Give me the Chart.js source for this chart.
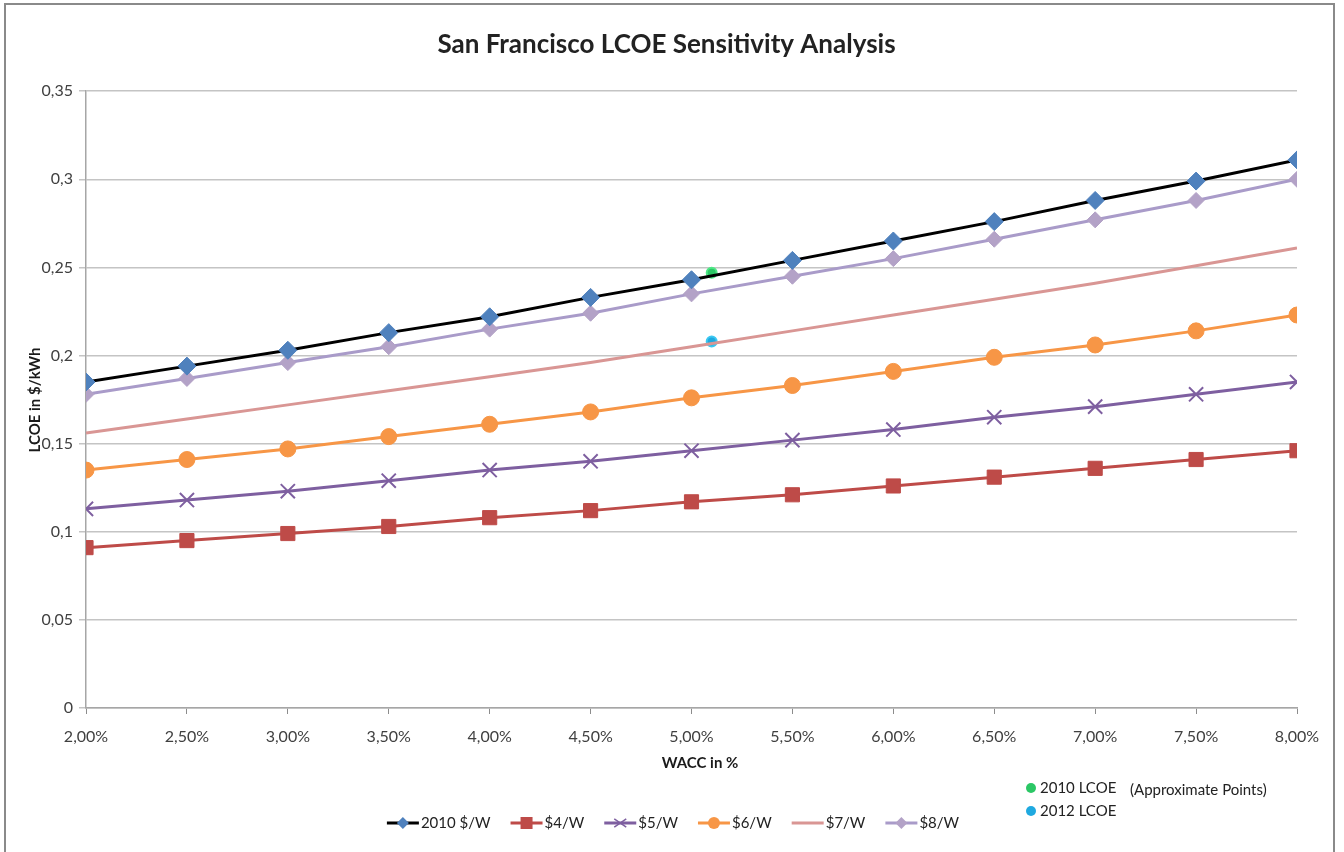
<html>
<head>
	<title>San Francisco LCOE Sensitivity Analysis</title>
	<script src="https://cdn.jsdelivr.net/npm/chart.js"></script>
	<style>
		body { margin: 0; background: #fff; }
		.chart { width: 1344px; height: 852px; }
	</style>
</head>
<body>
	<div class="chart">
		<canvas id="lcoeChart" width="1344" height="852"></canvas>
	</div>
<script>
	// WACC in %
	const wacc = [2, 2.5, 3, 3.5, 4, 4.5, 5, 5.5, 6, 6.5, 7, 7.5, 8];

	// LCOE in $/kWh
	const cost2010 = [0.185, 0.194, 0.203, 0.213, 0.222, 0.233, 0.243, 0.254, 0.265, 0.276, 0.288, 0.299, 0.311];
	const cost4 = [0.091, 0.095, 0.099, 0.103, 0.108, 0.112, 0.117, 0.121, 0.126, 0.131, 0.136, 0.141, 0.146];
	const cost5 = [0.113, 0.118, 0.123, 0.129, 0.135, 0.140, 0.146, 0.152, 0.158, 0.165, 0.171, 0.178, 0.185];
	const cost6 = [0.135, 0.141, 0.147, 0.154, 0.161, 0.168, 0.176, 0.183, 0.191, 0.199, 0.206, 0.214, 0.223];
	const cost7 = [0.156, 0.164, 0.172, 0.180, 0.188, 0.196, 0.205, 0.214, 0.223, 0.232, 0.241, 0.251, 0.261];
	const cost8 = [0.178, 0.187, 0.196, 0.205, 0.215, 0.224, 0.235, 0.245, 0.255, 0.266, 0.277, 0.288, 0.300];

	// approximate points
	const lcoe2010 = [5.1, 0.247];
	const lcoe2012 = [5.1, 0.208];

	const seriesLabels = ['2010 $/W', '$4/W', '$5/W', '$6/W', '$7/W', '$8/W'];

	const FONT = 'Lato, "Open Sans", sans-serif';

	const toPoints = (arr) => arr.map((v, i) => ({ x: wacc[i], y: v }));

	const seriesStyle = [
		{ line: '#000000', fill: '#4f81bd', point: 'rectRot', radius: 9 },
		{ line: '#be4b48', fill: '#be4b48', point: 'rect', radius: 10 },
		{ line: '#7e5fa0', fill: '#7e5fa0', point: 'crossRot', radius: 10 },
		{ line: '#f79646', fill: '#f79646', point: 'circle', radius: 8 },
		{ line: '#d99694', fill: '#d99694', point: false, radius: 0 },
		{ line: '#a99bc9', fill: '#b3a2c7', point: 'rectRot', radius: 8 }
	];
	const seriesData = [cost2010, cost4, cost5, cost6, cost7, cost8];

	const datasets = seriesData.map((d, i) => ({
		label: seriesLabels[i],
		data: toPoints(d),
		borderColor: seriesStyle[i].line,
		backgroundColor: seriesStyle[i].fill,
		pointBackgroundColor: seriesStyle[i].fill,
		pointBorderColor: seriesStyle[i].fill,
		pointBorderWidth: seriesStyle[i].point === 'crossRot' ? 2 : 1,
		pointStyle: seriesStyle[i].point,
		pointRadius: seriesStyle[i].radius,
		borderWidth: 3,
		tension: 0
	}));

	datasets.push({
		label: '2010 LCOE',
		data: [{ x: lcoe2010[0], y: lcoe2010[1] }],
		showLine: false,
		pointStyle: 'circle',
		pointRadius: 5,
		pointBackgroundColor: '#2bc765',
		pointBorderColor: '#4fe886',
		pointBorderWidth: 2
	});
	datasets.push({
		label: '2012 LCOE',
		data: [{ x: lcoe2012[0], y: lcoe2012[1] }],
		showLine: false,
		pointStyle: 'circle',
		pointRadius: 5,
		pointBackgroundColor: '#1fa9e0',
		pointBorderColor: '#3cc8f2',
		pointBorderWidth: 2
	});

	function marker(ctx, style, x, y, r, color) {
		ctx.save();
		ctx.fillStyle = color;
		ctx.strokeStyle = color;
		ctx.beginPath();
		if (style === 'rectRot') {
			ctx.moveTo(x, y - r); ctx.lineTo(x + r, y); ctx.lineTo(x, y + r); ctx.lineTo(x - r, y);
			ctx.closePath(); ctx.fill();
		} else if (style === 'rect') {
			ctx.rect(x - r, y - r, 2 * r, 2 * r); ctx.fill();
		} else if (style === 'circle') {
			ctx.arc(x, y, r, 0, Math.PI * 2); ctx.fill();
		} else if (style === 'crossRot') {
			ctx.lineWidth = 1.5;
			ctx.moveTo(x - r, y - r * 0.7); ctx.lineTo(x + r, y + r * 0.7);
			ctx.moveTo(x - r, y + r * 0.7); ctx.lineTo(x + r, y - r * 0.7);
			ctx.stroke();
		}
		ctx.restore();
	}

	const frame = {
		id: 'frame',
		beforeDraw(chart) {
			const ctx = chart.ctx;
			ctx.save();
			ctx.fillStyle = '#fff';
			ctx.fillRect(0, 0, chart.width, chart.height);
			ctx.strokeStyle = '#8a8a8a';
			ctx.lineWidth = 2;
			ctx.strokeRect(5, 4, 1329, 870);
			ctx.restore();
		},
		afterDraw(chart) {
			const ctx = chart.ctx;
			ctx.save();
			ctx.fillStyle = '#1a1a1a';
			ctx.font = 'bold 15px ' + FONT;
			ctx.textAlign = 'center';
			ctx.textBaseline = 'middle';
			ctx.fillText('WACC in %', 700, 763);
			ctx.translate(35, 400);
			ctx.rotate(-Math.PI / 2);
			ctx.fillText('LCOE in $/kWh', 0, 0);
			ctx.restore();

			// series legend
			ctx.save();
			ctx.font = '15px ' + FONT;
			ctx.textBaseline = 'middle';
			const y = 823;
			const lineLen = 32;
			const gap = 20;
			const widths = seriesLabels.map(t => lineLen + 2 + ctx.measureText(t).width);
			const total = widths.reduce((a, b) => a + b, 0) + gap * (widths.length - 1);
			let x = 673 - total / 2;
			seriesLabels.forEach((t, i) => {
				const s = seriesStyle[i];
				ctx.strokeStyle = s.line;
				ctx.lineWidth = 3;
				ctx.beginPath();
				ctx.moveTo(x, y); ctx.lineTo(x + lineLen, y);
				ctx.stroke();
				if (s.point) marker(ctx, s.point, x + lineLen / 2, y, 6, s.fill);
				ctx.fillStyle = '#222';
				ctx.fillText(t, x + lineLen + 2, y);
				x += widths[i] + gap;
			});

			// approximate points legend
			marker(ctx, 'circle', 1031, 788, 5, '#2bc765');
			marker(ctx, 'circle', 1031, 811, 5, '#1fa9e0');
			ctx.fillStyle = '#222';
			ctx.fillText('2010 LCOE', 1040, 788);
			ctx.fillText('2012 LCOE', 1040, 811);
			ctx.fillText('(Approximate Points)', 1130, 790);
			ctx.restore();
		}
	};

	const fmtY = (v) => String(parseFloat(v.toFixed(2))).replace('.', ',');
	const fmtX = (v) => v.toFixed(2).replace('.', ',') + '%';

	const lcoeChart = new Chart(
		document.getElementById('lcoeChart'),
		{
			type: 'line',
			data: { datasets: datasets },
			plugins: [frame],
			options: {
				responsive: false,
				animation: false,
				layout: { padding: { left: 36, right: 47, top: 0, bottom: 0 } },
				plugins: {
					legend: { display: false },
					tooltip: { enabled: false },
					title: {
						display: true,
						text: 'San Francisco LCOE Sensitivity Analysis',
						color: '#222',
						font: { family: FONT, size: 26, weight: 'bold' },
						padding: { top: 29, bottom: 31 }
					}
				},
				scales: {
					x: {
						type: 'linear',
						min: 2,
						max: 8,
						afterFit: (s) => { s.height = 144; },
						ticks: {
							stepSize: 0.5,
							padding: 13,
							color: '#404040',
							font: { family: FONT, size: 16 },
							callback: fmtX
						},
						grid: { drawOnChartArea: false, tickLength: 6, color: '#8c8c8c' },
						border: { color: '#a6a6a6', width: 1.5 }
					},
					y: {
						min: 0,
						max: 0.35,
						afterFit: (s) => { s.width = 50; },
						ticks: {
							stepSize: 0.05,
							padding: 6,
							color: '#404040',
							font: { family: FONT, size: 16 },
							callback: fmtY
						},
						grid: { color: '#c4c4c4', lineWidth: 1.5, tickLength: 7 },
						border: { color: '#a6a6a6', width: 1.5 }
					}
				}
			}
		}
	);
</script>
</body>
</html>
